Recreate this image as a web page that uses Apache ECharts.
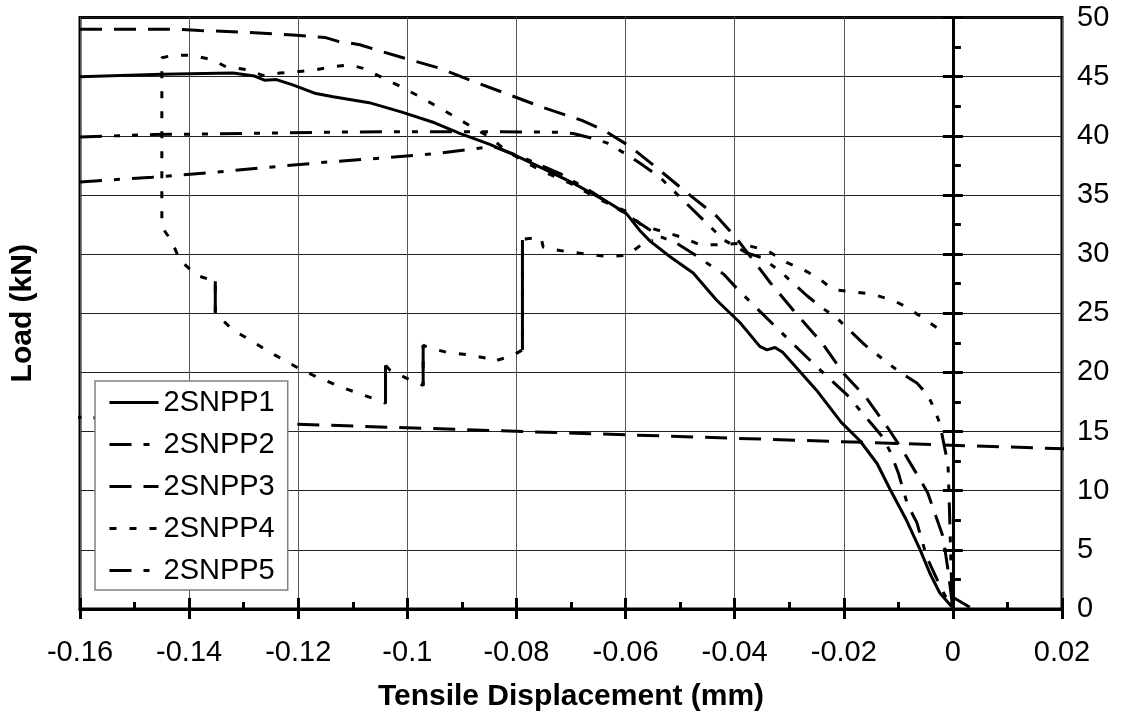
<!DOCTYPE html>
<html>
<head>
<meta charset="utf-8">
<title>2SNPP load vs tensile displacement</title>
<script src="https://cdn.jsdelivr.net/npm/echarts@6/dist/echarts.min.js"></script>
<style>
  html, body { margin: 0; padding: 0; background: #fff; }
  #chart { width: 1129px; height: 722px; }
</style>
</head>
<body>
<div id="chart"></div>
<script>
// axis ranges
const xMin = -0.16, xMax = 0.02, xStep = 0.02
const yMin = 0, yMax = 50, yStep = 5

const seriesNames = ['2SNPP1', '2SNPP2', '2SNPP3', '2SNPP4', '2SNPP5']

// [displacement mm, load kN]
const s1 = [[-0.16,45.0],[-0.145,45.2],[-0.132,45.3],[-0.128,45.05],[-0.1262,44.7],[-0.124,44.75],[-0.121,44.3],[-0.117,43.6],[-0.1136,43.3],[-0.107,42.8],[-0.101,42.0],[-0.095,41.1],[-0.0904,40.2],[-0.085,39.3],[-0.08,38.3],[-0.075,37.2],[-0.0696,36.0],[-0.0629,34.3],[-0.0598,33.4],[-0.0574,32.0],[-0.0555,31.1],[-0.0519,29.8],[-0.0476,28.4],[-0.0433,26.1],[-0.039,24.2],[-0.0354,22.2],[-0.0341,21.9],[-0.0326,22.1],[-0.0312,21.7],[-0.025,18.5],[-0.0205,15.8],[-0.017,14.2],[-0.0139,12.3],[-0.0115,10.1],[-0.0085,7.5],[-0.006,5.0],[-0.0042,3.0],[-0.0024,1.35],[-0.0002,0.2],[0,1.0],[0.0031,0.15]]

const s2 = [[-0.16,36.1],[-0.1467,36.5],[-0.1356,36.9],[-0.1264,37.3],[-0.1142,37.8],[-0.105,38.1],[-0.0946,38.5],[-0.0843,39.1],[-0.0825,38.8],[-0.078,38.0],[-0.072,36.8],[-0.066,35.2],[-0.061,33.7],[-0.0574,32.6],[-0.0537,31.5],[-0.0506,30.9],[-0.0478,30.1],[-0.044,28.9],[-0.042,28.3],[-0.0394,27.0],[-0.0348,24.9],[-0.0295,22.5],[-0.025,20.5],[-0.0194,18.1],[-0.0152,15.8],[-0.0128,14.5],[-0.0115,13.3],[-0.01,11.5],[-0.0083,8.8],[-0.0066,7.3],[-0.0048,4.4],[-0.0024,2.0],[-0.0005,0.3]]

const s3 = [[-0.16,49.0],[-0.1417,49.0],[-0.138,48.9],[-0.1294,48.75],[-0.1203,48.5],[-0.115,48.3],[-0.1128,48.0],[-0.1087,47.7],[-0.1045,47.1],[-0.1008,46.6],[-0.094,45.7],[-0.0885,44.7],[-0.0815,43.5],[-0.0752,42.4],[-0.068,41.3],[-0.0641,40.5],[-0.0592,39.1],[-0.0543,37.3],[-0.0488,35.2],[-0.0433,33.2],[-0.0396,31.3],[-0.0335,27.6],[-0.0286,24.9],[-0.024,22.5],[-0.0202,20.0],[-0.0158,17.8],[-0.0119,15.3],[-0.0092,13.4],[-0.0057,10.7],[-0.0046,9.8],[-0.0018,6.1],[-0.0008,3.0],[0,0]]
// 2SNPP3 after failure, runs past both ends of the axis
const s3tail = [[-0.17,16.35],[0.03,13.4]]

const s4 = [[-0.003,23.8],[-0.0055,24.6],[-0.0084,25.5],[-0.011,26.1],[-0.0147,26.6],[-0.018,26.8],[-0.022,27.0],[-0.0247,28.0],[-0.0275,28.7],[-0.0305,29.3],[-0.034,30.3],[-0.039,30.9],[-0.043,30.8],[-0.0464,30.8],[-0.0495,31.4],[-0.0524,31.8],[-0.057,32.4],[-0.0598,33.6],[-0.0647,34.6],[-0.0702,36.0],[-0.0757,37.1],[-0.0818,38.7],[-0.0849,39.9],[-0.088,40.7],[-0.0916,41.7],[-0.0977,43.3],[-0.1014,44.2],[-0.1054,45.1],[-0.1081,45.7],[-0.1105,46.0],[-0.1142,45.8],[-0.1166,45.6],[-0.1203,45.4],[-0.1234,45.3],[-0.1265,45.1],[-0.1294,45.6],[-0.1331,45.8],[-0.1356,46.4],[-0.1393,46.8],[-0.143,46.8],[-0.145,46.6],[-0.145,32.3],[-0.1432,31.1],[-0.1417,29.5],[-0.1386,28.2],[-0.1352,27.7],[-0.1352,25.0],[-0.132,23.6],[-0.1283,22.6],[-0.1252,21.7],[-0.122,20.9],[-0.1194,20.2],[-0.116,19.5],[-0.1124,18.8],[-0.1063,17.8],[-0.104,17.4],[-0.104,20.6],[-0.1032,20.2],[-0.1001,19.5],[-0.0971,18.9],[-0.0971,22.3],[-0.0962,22.1],[-0.0928,21.7],[-0.0891,21.5],[-0.0854,21.2],[-0.0845,20.9],[-0.0808,21.4],[-0.0789,21.9],[-0.0789,31.2],[-0.0781,31.3],[-0.0755,31.4],[-0.0751,30.6],[-0.0744,30.5],[-0.0707,30.2],[-0.067,30.0],[-0.0634,29.8],[-0.0597,29.9],[-0.0568,30.9],[-0.055,31.2]]
// load jumps of 2SNPP4, densely sampled so they print as solid strokes
const s4jumps = [[-0.1352,27.7],[-0.1352,25.0],['-','-'],[-0.104,17.4],[-0.104,20.6],['-','-'],[-0.0971,18.9],[-0.0971,22.3],['-','-'],[-0.0789,21.9],[-0.0789,31.2]]

const s5 = [[-0.16,39.9],[-0.1467,40.1],[-0.1294,40.2],[-0.116,40.3],[-0.1,40.35],[-0.085,40.35],[-0.0726,40.3],[-0.0696,40.2],[-0.0662,39.8],[-0.0634,39.4],[-0.0601,38.5],[-0.0574,37.7],[-0.0537,36.5],[-0.05,34.8],[-0.046,33.0],[-0.042,31.2],[-0.0378,30.1],[-0.035,29.7],[-0.0313,28.4],[-0.0268,26.5],[-0.0238,25.4],[-0.0213,24.6],[-0.0161,22.3],[-0.0125,21.0],[-0.0097,20.0],[-0.0066,19.1],[-0.0046,18.1],[-0.0035,17.0],[-0.0024,15.7],[-0.0015,13.6],[-0.0009,12.3],[-0.0006,8.0],[-0.0003,3.0],[0,0]]

const dashes = ['solid', [22, 12, 6, 12], [22, 12], [7, 13], [22, 12, 6, 12, 6, 12]]

const font = 'Liberation Sans, Arial, sans-serif'
const black = '#000'

function line(name, data, dash) {
  return {
    name, type: 'line', data, xAxisIndex: 0, yAxisIndex: 0,
    symbol: 'none', showSymbol: false, clip: true, smooth: false, connectNulls: false,
    lineStyle: { color: black, width: 3, type: dash },
    itemStyle: { color: black },
    emphasis: { disabled: true }
  }
}

const chart = echarts.init(document.getElementById('chart'), null, { renderer: 'canvas' })

chart.setOption({
  animation: false,
  backgroundColor: '#fff',
  textStyle: { fontFamily: font },
  grid: {
    left: 80, right: 67, top: 17.5, bottom: 113,
    show: true, borderColor: black, borderWidth: 3, backgroundColor: 'transparent',
    containLabel: false, outerBoundsMode: 'none'
  },
  legend: {
    data: seriesNames, orient: 'vertical', left: 95, top: 381,
    padding: [7, 13, 5, 13], itemGap: 13, itemWidth: 49, itemHeight: 14,
    backgroundColor: '#fff', borderColor: '#808080', borderWidth: 1.5, borderRadius: 0,
    itemStyle: { opacity: 0 },
    lineStyle: { width: 3, color: black },
    textStyle: { fontSize: 29, lineHeight: 29, color: black, fontFamily: font },
    selectedMode: false
  },
  xAxis: [
    {
      type: 'value', min: xMin, max: xMax, interval: xStep, position: 'bottom',
      name: 'Tensile Displacement (mm)', nameLocation: 'middle', nameGap: 73,
      nameTextStyle: { fontSize: 30, fontWeight: 'bold', color: black, lineHeight: 30, fontFamily: font },
      axisLine: { show: true, onZero: false, lineStyle: { color: black, width: 3 } },
      axisTick: { show: true, inside: false, length: 10, lineStyle: { color: black, width: 3 } },
      axisLabel: { fontSize: 29, lineHeight: 29, color: black, margin: 29, fontFamily: font },
      splitLine: { show: true, lineStyle: { color: '#555', width: 1 } }
    },
    {
      type: 'value', min: xMin, max: xMax, interval: xStep, position: 'bottom',
      axisLine: { show: false, onZero: false },
      axisTick: { show: true, inside: true, length: 11, lineStyle: { color: black, width: 3 } },
      minorTick: { show: true, splitNumber: 2, length: 7, lineStyle: { color: black, width: 3 } },
      axisLabel: { show: false },
      splitLine: { show: false }
    }
  ],
  yAxis: [
    {
      type: 'value', min: yMin, max: yMax, interval: yStep, position: 'right',
      axisLine: { show: false, onZero: false },
      axisTick: { show: false },
      axisLabel: { fontSize: 29, lineHeight: 29, color: black, margin: 15, fontFamily: font },
      splitLine: { show: true, lineStyle: { color: '#222', width: 1 } }
    },
    {
      // axis drawn through x = 0, ticks to the left
      type: 'value', min: yMin, max: yMax, interval: yStep, position: 'left',
      axisLine: { show: true, onZero: true, onZeroAxisIndex: 0, lineStyle: { color: black, width: 3 } },
      axisTick: { show: true, inside: false, length: 10, lineStyle: { color: black, width: 3 } },
      axisLabel: { show: false },
      splitLine: { show: false }
    },
    {
      // same axis, ticks to the right plus minor ticks
      type: 'value', min: yMin, max: yMax, interval: yStep, position: 'left',
      axisLine: { show: false, onZero: true, onZeroAxisIndex: 0 },
      axisTick: { show: true, inside: true, length: 10, lineStyle: { color: black, width: 3 } },
      minorTick: { show: true, splitNumber: 2, length: 8, lineStyle: { color: black, width: 3 } },
      axisLabel: { show: false },
      splitLine: { show: false }
    },
    {
      // carries only the axis title on the left edge
      type: 'value', min: yMin, max: yMax, position: 'left',
      name: 'Load (kN)', nameLocation: 'middle', nameGap: 42,
      nameTextStyle: { fontSize: 30, fontWeight: 'bold', color: black, lineHeight: 30, fontFamily: font },
      axisLine: { show: false, onZero: false },
      axisTick: { show: false }, axisLabel: { show: false }, splitLine: { show: false }
    }
  ],
  series: [
    line(seriesNames[0], s1, dashes[0]),
    line(seriesNames[1], s2, dashes[1]),
    line(seriesNames[2], s3, dashes[2]),
    line(seriesNames[2], s3tail, dashes[2]),
    line(seriesNames[3], s4, dashes[3]),
    line(seriesNames[3], s4jumps, 'solid'),
    line(seriesNames[4], s5, dashes[4])
  ]
})
</script>
</body>
</html>
